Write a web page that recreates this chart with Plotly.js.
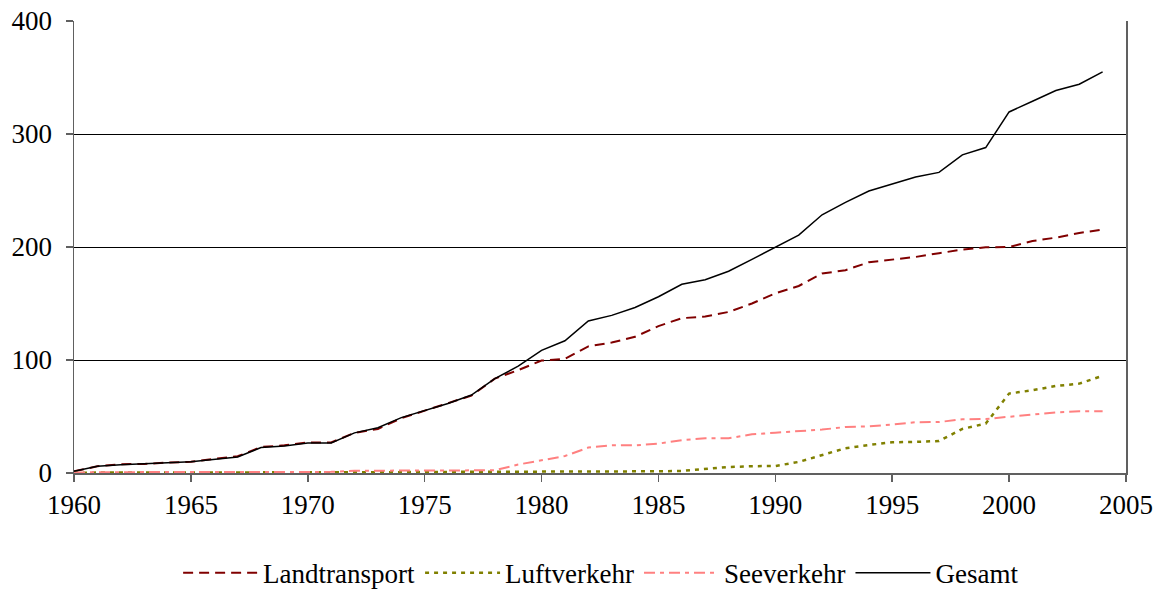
<!DOCTYPE html>
<html>
<head>
<meta charset="utf-8">
<script src="https://cdn.plot.ly/plotly-3.0.1.min.js"></script>
<style>
  html, body { margin: 0; padding: 0; background: #ffffff; }
  #chart { width: 1156px; height: 591px; }
</style>
</head>
<body>
<div id="chart"></div>
<script>
const years = [1960,1961,1962,1963,1964,1965,1966,1967,1968,1969,1970,1971,1972,1973,1974,1975,1976,1977,1978,1979,1980,1981,1982,1983,1984,1985,1986,1987,1988,1989,1990,1991,1992,1993,1994,1995,1996,1997,1998,1999,2000,2001,2002,2003,2004];

const landtransport = [1.5,6,7.8,8,9.2,10,12.5,14.8,23,24.5,27,27,35.5,39,48.5,55,62,68.5,83.5,91,99.5,101,112,115.5,120.5,130,137,138.5,142.5,150,159,165.5,176.5,179.5,186.5,188.8,191.2,194.5,197.7,199.7,200,205.3,208.3,212.4,215.4];

const luftverkehr = [0.3,0.3,0.3,0.3,0.3,0.3,0.3,0.3,0.3,0.3,0.5,0.5,0.8,0.8,0.8,0.8,1,1,1,1,1.2,1.5,1.5,1.5,1.5,1.5,1.8,3.5,5.3,6,6.2,9.8,15.7,21.9,24.8,27.2,27.5,28.3,39,43.7,70.3,73.2,77,79.1,86];

const seeverkehr = [0.5,0.8,0.8,0.8,0.8,0.8,0.8,0.8,0.8,0.8,0.8,1,2,2,1.8,1.8,1.8,1.8,2.4,7.5,11.5,15,22.5,24.5,24.5,26,29,30.7,30.7,34.2,35.7,37,38.4,40.7,41.3,42.8,45,45.1,47.5,47.8,49.9,51.7,53.7,54.6,54.6];

const gesamt = [1.5,6,7.2,7.8,9,10,12.4,14.2,22.5,24,26.5,26.5,35.5,40,49,55,61.5,69,83.5,94.5,108.5,117,134.5,139.5,146.5,156,167,171,178.5,189,200,210.5,228.5,239.5,249.5,256,262,266,281.5,288,319.5,329,338.5,344,355];

const seriesNames = ['Landtransport','Luftverkehr','Seeverkehr','Gesamt'];
const xTicks = [1960,1965,1970,1975,1980,1985,1990,1995,2000,2005];
const yTicks = [0,100,200,300,400];

const font = 'Liberation Serif, Times New Roman, serif';
const fs = 27;

const traces = [
  {x: years, y: landtransport, name: seriesNames[0], type: 'scatter', mode: 'lines',
   line: {color: '#800000', width: 2, dash: '10px,6px'}},
  {x: years, y: luftverkehr, name: seriesNames[1], type: 'scatter', mode: 'lines',
   line: {color: '#808000', width: 2.5, dash: '4px,5px'}},
  {x: years, y: seeverkehr, name: seriesNames[2], type: 'scatter', mode: 'lines',
   line: {color: '#FF8080', width: 2, dash: '11px,5px,4px,5px'}},
  {x: years, y: gesamt, name: seriesNames[3], type: 'scatter', mode: 'lines',
   line: {color: '#000000', width: 1.5}}
];

const layout = {
  width: 1156, height: 591,
  margin: {l: 74, r: 30, t: 21, b: 118},
  paper_bgcolor: '#ffffff', plot_bgcolor: '#ffffff',
  font: {family: font, size: fs, color: '#000000'},
  showlegend: true,
  legend: {orientation: 'h', xref: 'container', yref: 'container',
           x: 0.52, xanchor: 'center', y: 0.03, yanchor: 'middle',
           font: {family: font, size: fs, color: '#000000'}, itemwidth: 75, traceorder: 'normal'},
  xaxis: {range: [1960, 2005], tickvals: xTicks, ticktext: xTicks.map(String),
          showgrid: false, zeroline: false, showline: true, linecolor: '#606060', linewidth: 1.5,
          ticks: 'outside', ticklen: 7, tickcolor: '#606060', tickwidth: 1.5,
          tickfont: {family: font, size: fs, color: '#000000'}, fixedrange: true},
  yaxis: {range: [0, 400], tickvals: yTicks, ticktext: yTicks.map(String),
          showgrid: true, gridcolor: '#000000', gridwidth: 1, zeroline: false,
          showline: true, linecolor: '#606060', linewidth: 1.5, mirror: true,
          ticks: 'outside', ticklen: 7, tickcolor: '#606060', tickwidth: 1.5,
          ticklabelstandoff: 8,
          tickfont: {family: font, size: fs, color: '#000000'}, fixedrange: true}
};

Plotly.newPlot('chart', traces, layout, {displayModeBar: false, staticPlot: true});
</script>
</body>
</html>
